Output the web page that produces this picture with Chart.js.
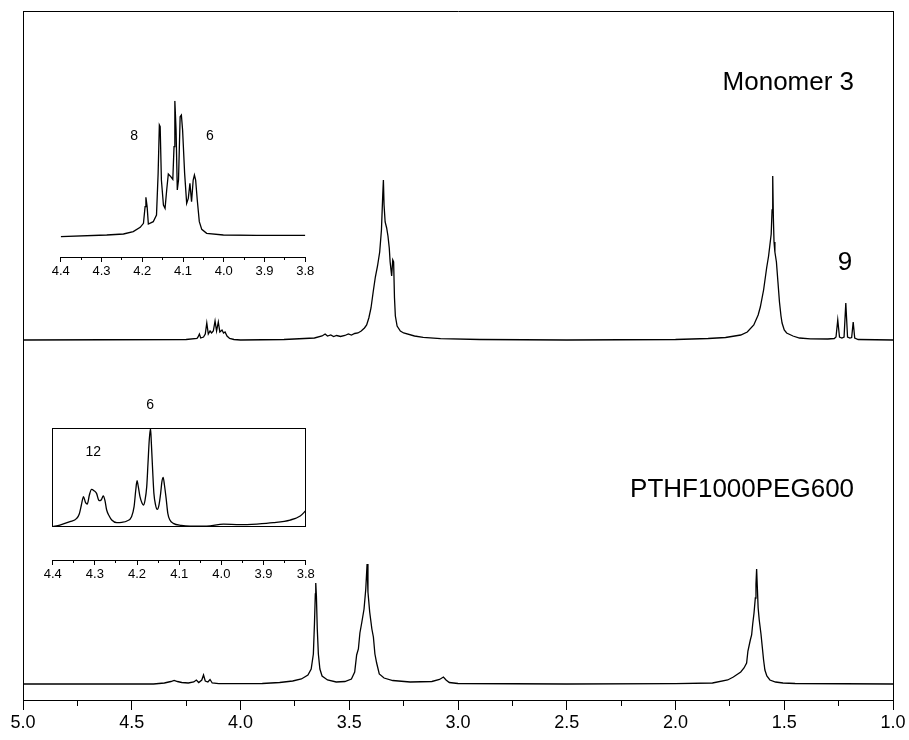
<!DOCTYPE html>
<html><head><meta charset="utf-8">
<script src="https://cdn.jsdelivr.net/npm/chart.js@4.4.1/dist/chart.umd.min.js"></script>
<style>
html,body{margin:0;padding:0;background:#fff;}
#wrap{position:relative;width:909px;height:740px;overflow:hidden;background:#fff;}
canvas{position:absolute;}
</style></head><body>
<div id="wrap">
<canvas id="main" width="909" height="740" style="left:0;top:0;"></canvas>
<canvas id="ins1" width="290" height="200" style="left:40px;top:90px;"></canvas>
<canvas id="ins2" width="300" height="210" style="left:30px;top:385px;"></canvas>
</div>
<script>
// ---------------- data: [ppm, intensity] ----------------
const mainTicks = [5.0, 4.5, 4.0, 3.5, 3.0, 2.5, 2.0, 1.5, 1.0];
const insetTicks = [4.4, 4.3, 4.2, 4.1, 4.0, 3.9, 3.8];

const monomer3 = [
 [5.00,0],[4.25,0.5],[4.20,1.5],[4.195,3],[4.189,6],[4.183,2],[4.17,3],[4.162,6],[4.155,17],[4.148,6],
 [4.14,9],[4.133,7],[4.125,9],[4.117,19],[4.11,9],[4.102,18],[4.095,8],[4.085,10],[4.078,7],[4.071,8],
 [4.062,4],[4.05,1.5],[4.03,0.5],[4.00,0],[3.80,0.5],[3.66,2],[3.625,4],[3.611,6],[3.60,4],[3.585,5],
 [3.572,3.5],[3.558,4.5],[3.54,3.5],[3.52,4.5],[3.504,6],[3.49,5],[3.475,6.5],[3.46,7],[3.445,9],[3.43,12],
 [3.42,15],[3.41,22],[3.40,32],[3.39,48],[3.38,63],[3.37,74],[3.36,88],[3.352,110],[3.346,145],[3.343,160],
 [3.340,135],[3.335,118],[3.328,112],[3.322,104],[3.316,92],[3.312,78],[3.305,64],[3.300,80],[3.296,78],[3.292,42],
 [3.288,24],[3.28,14],[3.265,9],[3.25,7],[3.20,4],[3.16,2.7],[3.08,1.3],[2.90,0.5],[2.50,0],[2.00,0.5],
 [1.85,1.5],[1.77,2.5],[1.70,5],[1.67,8],[1.64,15],[1.62,25],[1.61,33],[1.595,50],[1.581,72],[1.572,84],
 [1.566,95],[1.560,106],[1.556,130],[1.553,164],[1.550,122],[1.547,98],[1.543,88],[1.536,78],[1.529,58],[1.522,38],
 [1.515,24],[1.51,17],[1.50,10],[1.489,7],[1.46,4],[1.43,2],[1.38,1.2],[1.30,1],[1.27,1.5],[1.262,3],
 [1.254,20],[1.246,3],[1.235,2],[1.225,3],[1.217,37],[1.209,3],[1.198,2],[1.19,2.5],[1.183,18],[1.176,2],
 [1.16,0.5],[1.00,0]
];

const pthf = [
 [5.00,0],[4.40,0],[4.35,1],[4.32,2.5],[4.305,3.5],[4.29,2.5],[4.27,1.5],[4.24,1],[4.215,2],[4.203,4],
 [4.192,1.5],[4.178,4],[4.170,9],[4.162,3],[4.150,2],[4.140,4.5],[4.130,1],[4.10,0.3],[3.90,0.5],[3.82,1.5],
 [3.76,3],[3.72,5],[3.69,9],[3.675,15],[3.665,30],[3.660,60],[3.656,90],[3.654,101],[3.651,88],[3.647,55],
 [3.642,30],[3.635,15],[3.625,8],[3.60,4],[3.56,2],[3.52,2.5],[3.49,5],[3.475,12],[3.466,29],[3.458,35],
 [3.451,51],[3.442,62],[3.432,75],[3.424,95],[3.418,120],[3.414,92],[3.406,72],[3.396,55],[3.389,47],[3.382,30],
 [3.374,21],[3.362,10],[3.34,6],[3.30,3.5],[3.22,2],[3.12,2.5],[3.085,4.5],[3.067,7],[3.055,4],[3.04,1.5],
 [3.00,0.5],[2.50,0],[2.00,0.3],[1.83,1],[1.76,4],[1.734,7],[1.70,12],[1.685,16],[1.673,21],[1.667,33],
 [1.656,44],[1.650,49],[1.645,60],[1.639,71],[1.633,86],[1.630,100],[1.627,115],[1.624,98],[1.620,76],[1.615,64],
 [1.607,50],[1.601,37],[1.595,24],[1.589,14],[1.58,8],[1.566,4],[1.54,2],[1.506,1],[1.45,0.5],[1.00,0]
];

const insetMonomer = [
 [4.400,0],[4.287,5],[4.246,8],[4.222,15],[4.205,28],[4.197,40],[4.193,90],[4.191,118],[4.188,90],[4.185,38],
 [4.173,45],[4.165,65],[4.161,190],[4.158,335],[4.156,330],[4.153,170],[4.148,95],[4.144,85],[4.140,140],[4.136,188],
 [4.130,180],[4.125,172],[4.122,270],[4.120,408],[4.117,320],[4.114,140],[4.111,170],[4.107,360],[4.104,365],[4.101,320],
 [4.096,190],[4.091,100],[4.087,115],[4.083,160],[4.079,105],[4.075,170],[4.072,185],[4.069,170],[4.065,110],[4.060,45],
 [4.054,22],[4.042,10],[4.001,5],[3.919,4],[3.800,4]
];

const insetPthf = [
 [4.400,0],[4.383,5],[4.359,15],[4.343,25],[4.337,38],[4.332,65],[4.327,90],[4.322,72],[4.318,68],[4.313,95],
 [4.308,112],[4.302,108],[4.296,100],[4.290,78],[4.285,80],[4.280,92],[4.276,78],[4.272,50],[4.266,32],[4.260,20],
 [4.248,12],[4.236,13],[4.224,17],[4.213,30],[4.207,60],[4.203,110],[4.200,138],[4.197,120],[4.193,90],[4.188,70],
 [4.185,65],[4.181,80],[4.177,120],[4.174,190],[4.171,260],[4.168,295],[4.166,250],[4.163,170],[4.160,100],[4.156,65],
 [4.152,52],[4.148,65],[4.144,100],[4.141,135],[4.138,148],[4.135,125],[4.131,85],[4.127,40],[4.122,20],[4.114,10],
 [4.095,4],[4.074,2],[4.035,2],[3.995,8],[3.956,6],[3.916,8],[3.877,12],[3.837,20],[3.813,32],[3.800,48]
];

// annotation texts anchored in data coordinates
const mainLabels = [
 {text:'Monomer 3', x:1.179, y:617, align:'right', size:26},
 {text:'9', x:1.221, y:437, align:'center', size:26},
 {text:'PTHF1000PEG600', x:1.179, y:210, align:'right', size:26}
];
const inset1Labels = [
 {text:'8', x:4.22, y:302, align:'center', size:14},
 {text:'6', x:4.034, y:302, align:'center', size:14}
];
const inset2Labels = [
 {text:'12', x:4.304, y:224, align:'center', size:14},
 {text:'6', x:4.169, y:365, align:'center', size:14}
];

// ---------------- rendering ----------------
const FONT = "'Liberation Sans', Arial, Helvetica, sans-serif";
const BLACK = '#000';
Chart.defaults.color = BLACK;
Chart.defaults.font.family = FONT;

const UPPER_OFFSET = 360, LOWER_OFFSET = 16;

function toXY(arr, off) { return arr.map(p => ({x: p[0], y: p[1] + off})); }

function textPlugin(items) {
  return {
    id: 'txt',
    afterDraw(chart) {
      const ctx = chart.ctx, xs = chart.scales.x, ys = chart.scales.y;
      items.forEach(t => {
        ctx.save();
        ctx.font = t.size + 'px ' + FONT;
        ctx.fillStyle = BLACK;
        ctx.textAlign = t.align;
        ctx.textBaseline = 'middle';
        ctx.fillText(t.text, xs.getPixelForValue(t.x), ys.getPixelForValue(t.y));
        ctx.restore();
      });
    }
  };
}

function frameAxis(position, min, max, prop, size, weight) {
  return {
    type: 'linear', position, min, max, weight: weight || 0, reverse: (position === 'top' || position === 'bottom'),
    ticks: {display: false},
    grid: {display: false},
    border: {display: true, color: BLACK, width: 1},
    afterFit: s => { s[prop] = size; }
  };
}

function tickAxis(min, max, step, len, labelled, fontSize, height, weight, tickList) {
  return {
    type: 'linear', position: 'bottom', min, max, reverse: true, weight,
    afterBuildTicks: labelled ? (s => { s.ticks = tickList.map(v => ({value: v})); }) : undefined,
    ticks: {
      display: labelled, stepSize: step, autoSkip: false, maxRotation: 0,
      callback: v => Number(v).toFixed(1),
      font: {family: FONT, size: fontSize}, color: BLACK, padding: 2
    },
    grid: {drawOnChartArea: false, tickLength: len, color: BLACK, tickColor: BLACK, lineWidth: 1},
    border: {display: labelled, color: BLACK, width: 1},
    afterFit: s => { s.height = height; }
  };
}

const lineStyle = {borderColor: BLACK, borderWidth: 1.3, pointRadius: 0, tension: 0, fill: false, xAxisID: 'x', yAxisID: 'y'};

new Chart(document.getElementById('main'), {
  type: 'line',
  data: {datasets: [
    Object.assign({label: 'Monomer 3', data: toXY(monomer3, UPPER_OFFSET)}, lineStyle),
    Object.assign({label: 'PTHF1000PEG600', data: toXY(pthf, LOWER_OFFSET)}, lineStyle)
  ]},
  options: {
    responsive: false, animation: false, devicePixelRatio: 1,
    layout: {padding: 0},
    plugins: {legend: {display: false}, tooltip: {enabled: false}},
    scales: {
      x: tickAxis(1, 5, 0.5, 10, true, 18, 40, 1, mainTicks),
      xm: tickAxis(1, 5, 0.25, 6, false, 18, 0, 0),
      xt: frameAxis('top', 1, 5, 'height', 11),
      y: frameAxis('left', 0, 689, 'width', 23),
      yr: frameAxis('right', 0, 689, 'width', 16)
    }
  },
  plugins: [textPlugin(mainLabels)]
});

new Chart(document.getElementById('ins1'), {
  type: 'line',
  data: {datasets: [Object.assign({label: 'inset 1', data: toXY(insetMonomer, 0)}, lineStyle)]},
  options: {
    responsive: false, animation: false, devicePixelRatio: 1,
    layout: {padding: {left: 20.7, right: 24.7, top: 10.7, bottom: 0}},
    plugins: {legend: {display: false}, tooltip: {enabled: false}},
    scales: {
      x: tickAxis(3.8, 4.4, 0.1, 5, true, 13, 33, 1, insetTicks),
      xm: tickAxis(3.8, 4.4, 0.05, 3, false, 13, 0, 0),
      y: {type: 'linear', display: false, min: -61, max: 408}
    }
  },
  plugins: [textPlugin(inset1Labels)]
});

new Chart(document.getElementById('ins2'), {
  type: 'line',
  data: {datasets: [Object.assign({label: 'inset 2', data: toXY(insetPthf, 0), cubicInterpolationMode: 'monotone'}, lineStyle)]},
  options: {
    responsive: false, animation: false, devicePixelRatio: 1,
    layout: {padding: {left: 22.7, right: 24.3, top: 43.3, bottom: 0}},
    plugins: {legend: {display: false}, tooltip: {enabled: false}},
    scales: {
      x: tickAxis(3.8, 4.4, 0.1, 5, true, 13, 35, 2, insetTicks),
      xg: frameAxis('bottom', 3.8, 4.4, 'height', 33.3, 0),
      xm: tickAxis(3.8, 4.4, 0.05, 3, false, 13, 0, 1),
      xt: frameAxis('top', 3.8, 4.4, 'height', 0),
      y: frameAxis('left', 0, 295, 'width', 0),
      yr: frameAxis('right', 0, 295, 'width', 0)
    }
  },
  plugins: [textPlugin(inset2Labels)]
});
</script>
</body></html>
